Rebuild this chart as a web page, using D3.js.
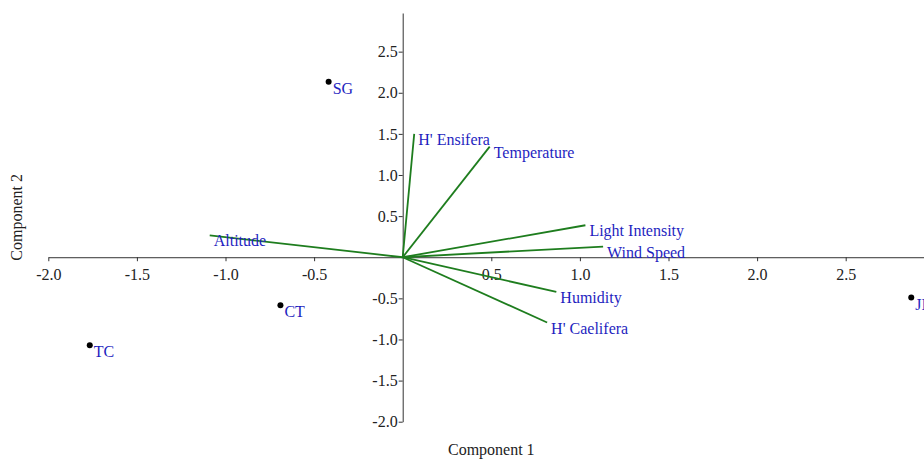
<!DOCTYPE html>
<html lang="en">
  <head>
    <meta charset="UTF-8" />
    <title>PCA Biplot</title>
    <style>
      body {
        margin: 0;
        padding: 0;
        background: #fff;
      }
      svg {
        display: block;
        font-family: "Liberation Serif", "Times New Roman", serif;
      }
      .axis path,
      .axis line {
        stroke: #333;
      }
      .label {
        font-size: 16px;
        fill: #1f1fbf;
      }
      .title {
        font-size: 16px;
        fill: #222;
      }
    </style>
  </head>
  <body>
    <svg id="chart"></svg>
    <script src="https://d3js.org/d3.v7.min.js"></script>
    <script>
      // site scores
      const sites = ["SG", "CT", "TC", "JI"];
      const siteX = [-0.418, -0.69, -1.766, 2.87];
      const siteY = [2.135, -0.583, -1.069, -0.49];

      // variable loadings
      const variables = ["Altitude", "H' Ensifera", "Temperature", "Light Intensity", "Wind Speed", "Humidity", "H' Caelifera"];
      const loadX = [-1.089, 0.065, 0.491, 1.031, 1.131, 0.867, 0.815];
      const loadY = [0.267, 1.5, 1.345, 0.389, 0.13, -0.421, -0.794];

      const xTicks = [-2, -1.5, -1, -0.5, 0.5, 1, 1.5, 2, 2.5];
      const yTicks = [-2, -1.5, -1, -0.5, 0.5, 1, 1.5, 2, 2.5];

      const width = 924;
      const height = 459;

      const svg = d3.select("#chart").attr("width", width).attr("height", height);

      const x = d3.scaleLinear().domain([-2, 3]).range([48.3, 934.3]);
      const y = d3.scaleLinear().domain([-2, 2.97]).range([421.7, 13]);

      // plain hyphen minus like the original
      const fmt = (d) => d3.format(".1f")(d).replace("\u2212", "-");

      const serif = '"Liberation Serif", "Times New Roman", serif';

      // axes through the origin
      svg
        .append("g")
        .attr("class", "axis")
        .attr("transform", "translate(0," + y(0) + ")")
        .call(d3.axisBottom(x).tickValues(xTicks).tickSize(4).tickPadding(7).tickSizeOuter(0).tickFormat(fmt))
        .selectAll("text")
        .style("font-family", serif)
        .style("font-size", "16px")
        .attr("fill", "#222");

      svg
        .append("g")
        .attr("class", "axis")
        .attr("transform", "translate(" + x(0) + ",0)")
        .call(d3.axisLeft(y).tickValues(yTicks).tickSize(4).tickPadding(1).tickSizeOuter(0).tickFormat(fmt))
        .selectAll("text")
        .style("font-family", serif)
        .style("font-size", "16px")
        .attr("fill", "#222");

      // loading vectors
      const loadings = variables.map((name, i) => ({ name: name, x: loadX[i], y: loadY[i] }));

      svg
        .selectAll(".vec")
        .data(loadings)
        .enter()
        .append("line")
        .attr("class", "vec")
        .attr("x1", x(0))
        .attr("y1", y(0))
        .attr("x2", (d) => x(d.x))
        .attr("y2", (d) => y(d.y))
        .attr("stroke", "#1e7d1e")
        .attr("stroke-width", 1.8);

      svg
        .selectAll(".vec-label")
        .data(loadings)
        .enter()
        .append("text")
        .attr("class", "label vec-label")
        .attr("x", (d) => x(d.x) + 4)
        .attr("y", (d) => y(d.y) + 11)
        .text((d) => d.name);

      // site points
      const points = sites.map((name, i) => ({ name: name, x: siteX[i], y: siteY[i] }));

      svg
        .selectAll(".pt")
        .data(points)
        .enter()
        .append("circle")
        .attr("class", "pt")
        .attr("cx", (d) => x(d.x))
        .attr("cy", (d) => y(d.y))
        .attr("r", 3)
        .attr("fill", "#000");

      svg
        .selectAll(".pt-label")
        .data(points)
        .enter()
        .append("text")
        .attr("class", "label pt-label")
        .attr("x", (d) => x(d.x) + 4)
        .attr("y", (d) => y(d.y) + 12)
        .text((d) => d.name);

      // axis titles
      svg
        .append("text")
        .attr("class", "title")
        .attr("x", (x.range()[0] + x.range()[1]) / 2)
        .attr("y", 455)
        .attr("text-anchor", "middle")
        .text("Component 1");

      svg
        .append("text")
        .attr("class", "title")
        .attr("transform", "translate(22," + (y.range()[0] + y.range()[1]) / 2 + ") rotate(-90)")
        .attr("text-anchor", "middle")
        .text("Component 2");
    </script>
  </body>
</html>
